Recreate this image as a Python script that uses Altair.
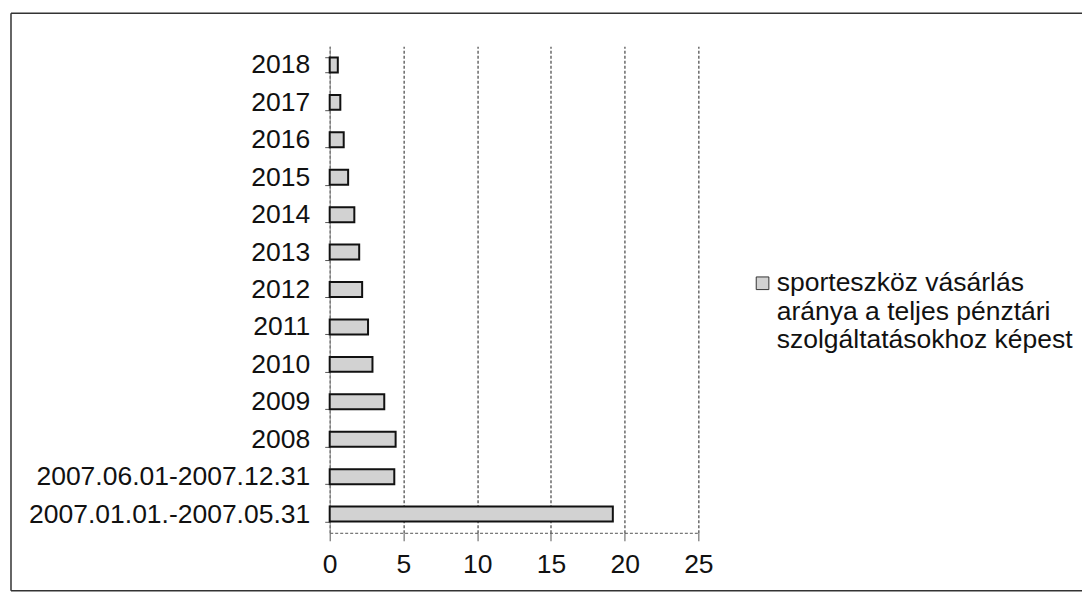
import altair as alt
import pandas as pd

categories = ["2018", "2017", "2016", "2015", "2014", "2013", "2012", "2011",
              "2010", "2009", "2008", "2007.06.01-2007.12.31", "2007.01.01.-2007.05.31"]
values = [0.55, 0.72, 0.95, 1.25, 1.67, 2.0, 2.2, 2.6, 2.9, 3.7, 4.47, 4.38, 19.2]
series_name = "sporteszköz vásárlás|aránya a teljes pénztári|szolgáltatásokhoz képest"
x_ticks = [0, 5, 10, 15, 20, 25]

df = pd.DataFrame({"cat": categories, "val": values, "series": [series_name] * len(categories)})
one = pd.DataFrame({"a": [0]})

FONT = "Liberation Sans"
FS = 26.5

bars = alt.Chart(df).mark_bar(stroke="#111111", strokeWidth=2).encode(
    y=alt.Y("cat:N", sort=categories,
            scale=alt.Scale(paddingInner=0.6, paddingOuter=0.3),
            axis=alt.Axis(title=None, tickBand="extent", grid=False, domainColor="#888888",
                          tickColor="#555555", tickSize=5, labelPadding=15,
                          labelFontSize=FS, labelFont=FONT, labelColor="#111111",
                          labelLimit=400)),
    x=alt.X("val:Q", scale=alt.Scale(domain=[0, 25], nice=False),
            axis=alt.Axis(title=None, values=x_ticks, grid=True, gridColor="#444444",
                          gridDash=[3, 2], gridWidth=1.2, domainColor="#555555",
                          domainDash=[3, 2], tickColor="#555555", tickSize=8,
                          labelPadding=11, labelFontSize=FS, labelFont=FONT,
                          labelColor="#111111", labelFlush=False)),
    color=alt.Color("series:N", scale=alt.Scale(range=["#d2d2d2"]),
                    legend=alt.Legend(title=None, orient="none", legendX=420, legendY=224,
                                      symbolType="square", symbolSize=160,
                                      symbolStrokeColor="#333333", symbolStrokeWidth=1,
                                      labelFontSize=FS, labelFont=FONT, labelColor="#111111",
                                      labelLimit=500, labelOffset=1, padding=0,
                                      labelExpr="split(datum.label, '|')")),
)

border_left = alt.Chart(one).mark_rule(color="#333333", strokeWidth=1.5).encode(
    x=alt.value(-319), y=alt.value(-33), y2=alt.value(545))
border_top = alt.Chart(one).mark_rule(color="#333333", strokeWidth=1.5).encode(
    x=alt.value(-319), x2=alt.value(753), y=alt.value(-33))
border_bottom = alt.Chart(one).mark_rule(color="#333333", strokeWidth=1.5).encode(
    x=alt.value(-319), x2=alt.value(753), y=alt.value(545))

chart = alt.layer(bars, border_left, border_top, border_bottom).properties(
    width=369, height=487,
    padding={"left": 2, "top": 4, "right": 0, "bottom": 0},
    background="white",
).configure_view(stroke=None)

chart.save("out.html", embed_options={"renderer": "svg", "actions": False})
